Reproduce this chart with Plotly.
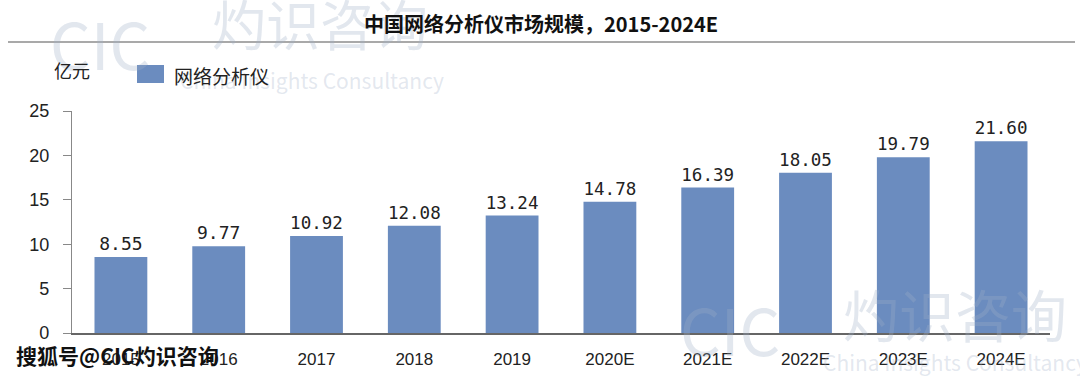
import plotly.graph_objects as go

categories = ["2015", "2016", "2017", "2018", "2019", "2020E", "2021E", "2022E", "2023E", "2024E"]
values = [8.55, 9.77, 10.92, 12.08, 13.24, 14.78, 16.39, 18.05, 19.79, 21.60]
value_labels = ["8.55", "9.77", "10.92", "12.08", "13.24", "14.78", "16.39", "18.05", "19.79", "21.60"]
y_ticks = [0, 5, 10, 15, 20, 25]

L, R, T, B = 72, 1050, 111, 333
W, H = 1080, 377

def pos(px, py):
    return (px - L) / (R - L), (B - py) / (B - T)

fig = go.Figure()
fig.add_trace(go.Bar(
    x=categories, y=values, name="网络分析仪",
    marker=dict(color="#6b8cbf", line=dict(width=0)),
    width=0.54,
    text=value_labels, textposition="outside",
    textfont=dict(size=18, color="#222222", family="DejaVu Sans Mono"),
    cliponaxis=False,
))

lx0, ly0 = pos(8, 42)
lx1, _ = pos(1075, 42)
sx0, sy0 = pos(137, 83)
sx1, sy1 = pos(164, 65)

fig.update_layout(
    width=W, height=H,
    margin=dict(l=L, r=W - R, t=T, b=H - B, autoexpand=False),
    paper_bgcolor="white", plot_bgcolor="white",
    showlegend=False,
    font=dict(family="Liberation Sans, Arial", color="#222222"),
    xaxis=dict(type="category", range=[-0.5, 9.5], showline=True, linecolor="#666666",
               linewidth=1.5, ticks="outside", ticklen=10, tickcolor="rgba(0,0,0,0)",
               tickfont=dict(size=17, color="#222222"), showgrid=False, automargin=False),
    yaxis=dict(range=[0, 25], tickvals=y_ticks, showline=True, linecolor="#888888",
               linewidth=1.2, ticks="outside", ticklen=8, tickcolor="#888888",
               ticklabelstandoff=10,
               tickfont=dict(size=18, color="#222222"), showgrid=False, zeroline=False,
               automargin=False),
    shapes=[
        dict(type="line", xref="paper", yref="paper", x0=lx0, x1=lx1, y0=ly0, y1=ly0,
             line=dict(color="#555555", width=1.2)),
        dict(type="rect", xref="paper", yref="paper", x0=sx0, x1=sx1, y0=sy0, y1=sy1,
             fillcolor="#6b8cbf", line=dict(width=0)),
    ],
)

ann = []
wm_color = "rgba(160,175,200,0.30)"
for txt, px, py, size in [("CIC", 100, 42, 64), ("灼识咨询", 320, 22, 54),
                          ("China Insights Consultancy", 312, 80, 21),
                          ("CIC", 730, 328, 64), ("灼识咨询", 955, 312, 56),
                          ("China Insights Consultancy", 955, 362, 21)]:
    x, y = pos(px, py)
    ann.append(dict(text=txt, x=x, y=y, xref="paper", yref="paper",
                    xanchor="center", yanchor="middle", showarrow=False,
                    font=dict(size=size, color=wm_color, family="Noto Sans CJK SC")))

x, y = pos(541, 23)
ann.append(dict(text="<b>中国网络分析仪市场规模，2015-2024E</b>", x=x, y=y, xref="paper", yref="paper",
                showarrow=False, xanchor="center", yanchor="middle",
                font=dict(size=20, color="#111111", family="Noto Sans CJK SC")))
x, y = pos(52, 70)
ann.append(dict(text="亿元", x=x, y=y, xref="paper", yref="paper", showarrow=False,
                xanchor="left", yanchor="middle", font=dict(size=18, color="#222222", family="Noto Sans CJK SC")))
x, y = pos(172, 75)
ann.append(dict(text="网络分析仪", x=x, y=y, xref="paper", yref="paper", showarrow=False,
                xanchor="left", yanchor="middle", font=dict(size=19, color="#222222", family="Noto Sans CJK SC")))
x, y = pos(14, 355)
ann.append(dict(text="<b>搜狐号@CIC灼识咨询</b>", x=x, y=y, xref="paper", yref="paper", showarrow=False,
                xanchor="left", yanchor="middle",
                font=dict(size=21, color="#111111", family="Noto Sans CJK SC")))
fig.update_layout(annotations=ann)

fig.write_html("out.html", config={"displayModeBar": False})

# remove the browser's default page margin so the figure sits at the window origin
with open("out.html", "r", encoding="utf-8") as f:
    html = f.read()
html = html.replace("<head>", "<head><style>html,body{margin:0;padding:0;overflow:hidden;}</style>", 1)
with open("out.html", "w", encoding="utf-8") as f:
    f.write(html)
